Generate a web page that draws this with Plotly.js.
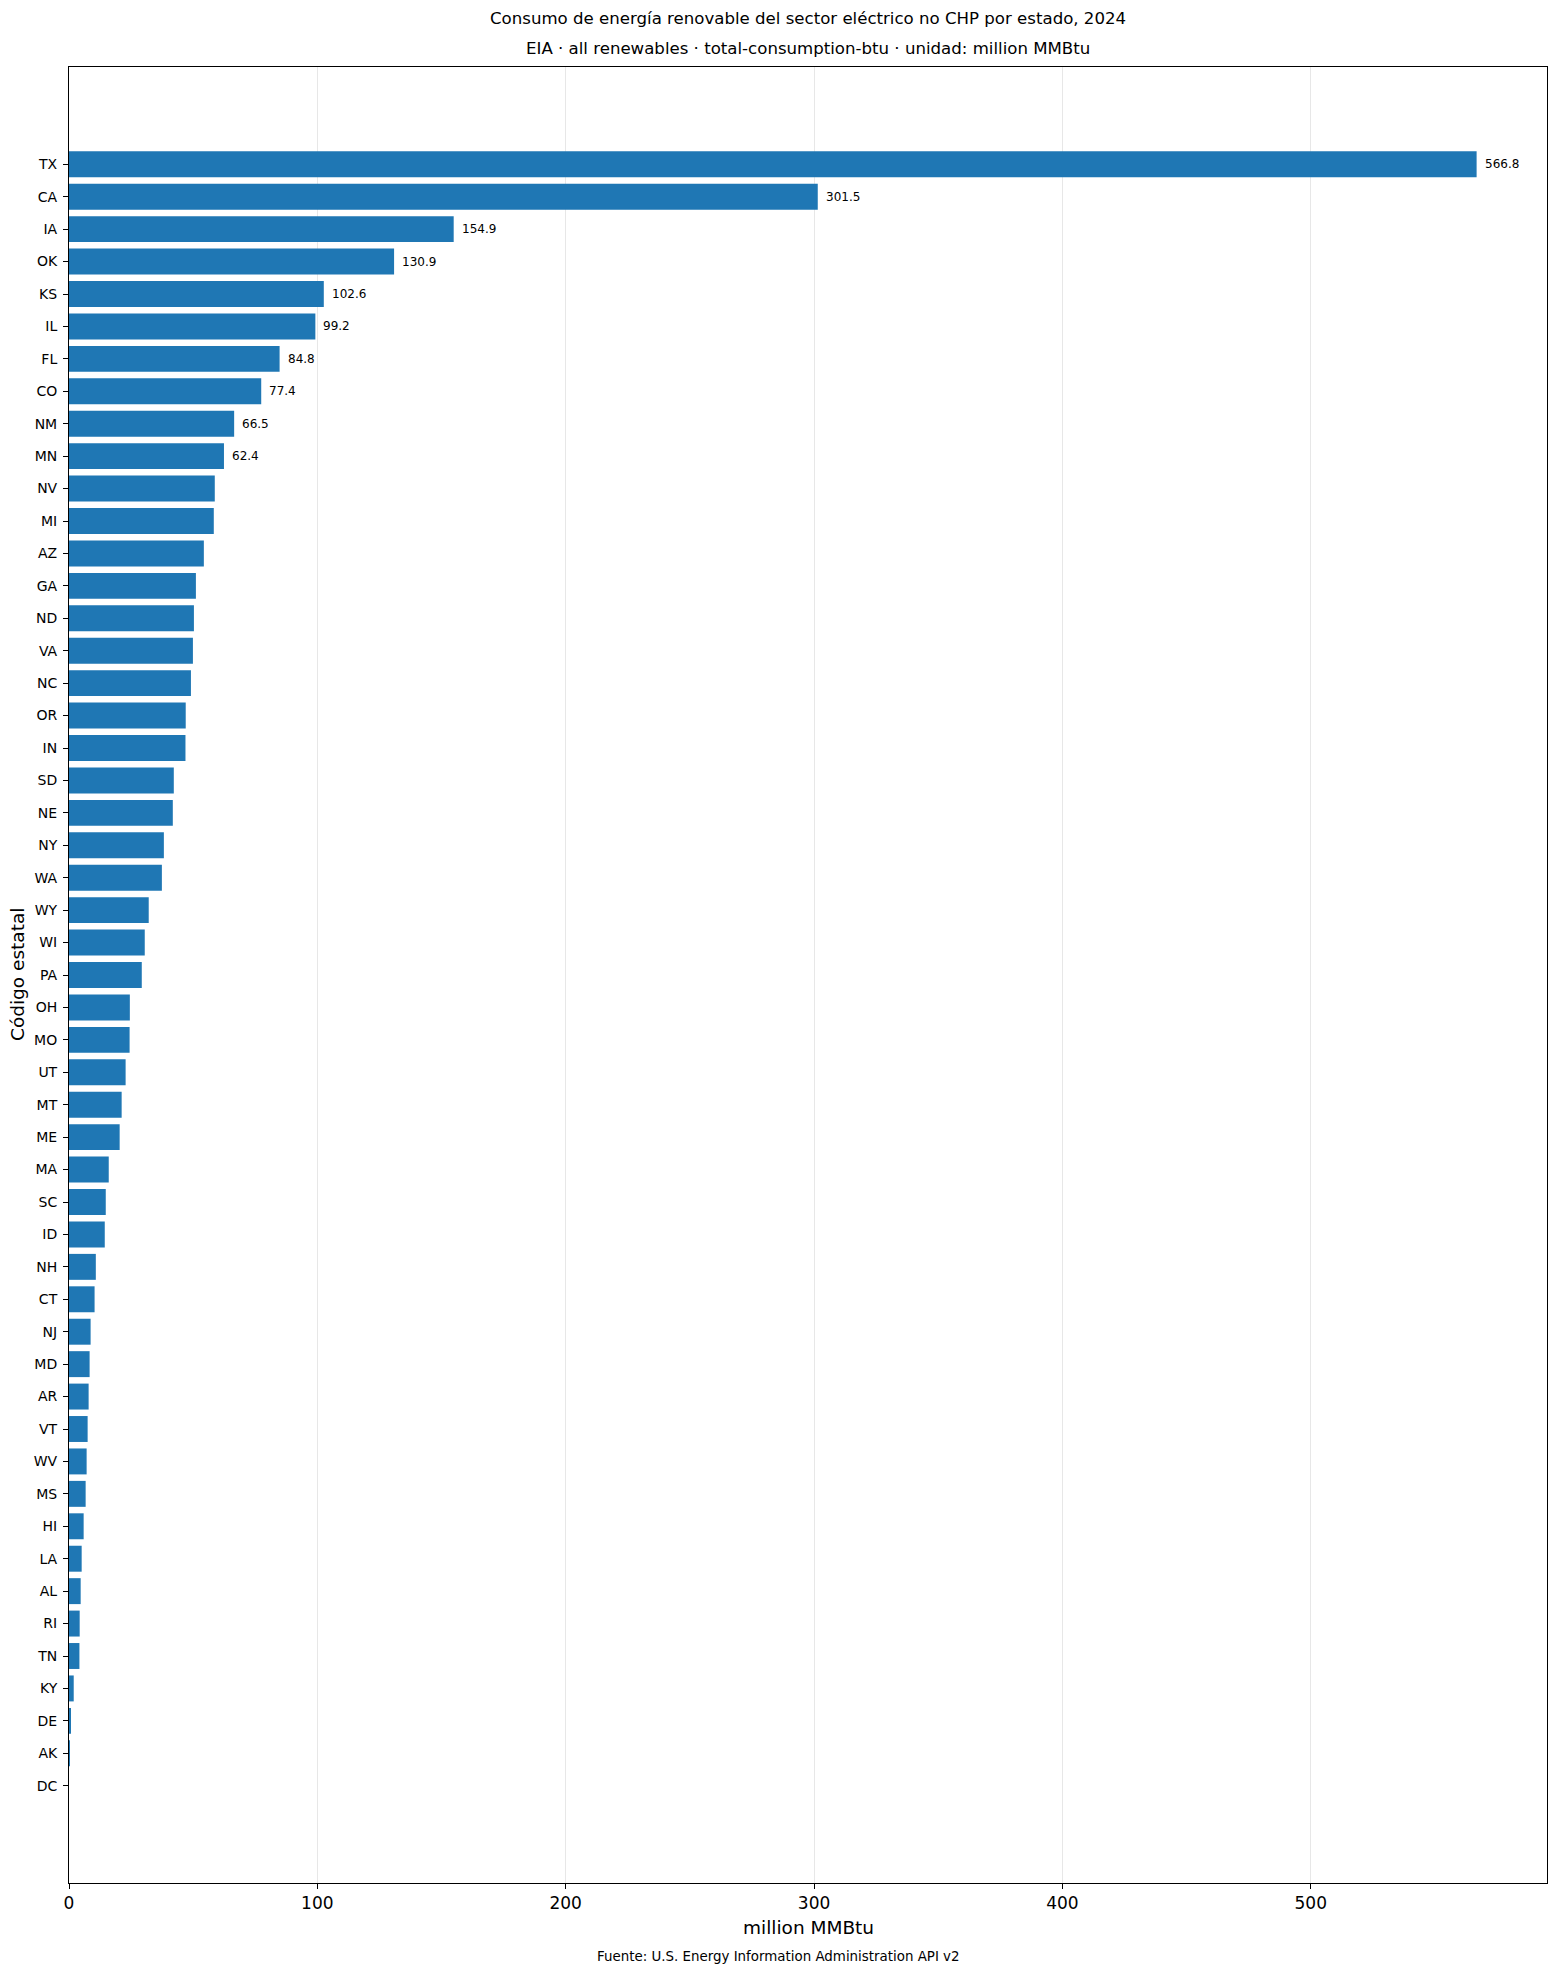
<!DOCTYPE html>
<html>
<head>
<meta charset="utf-8">
<script src="https://cdn.plot.ly/plotly-3.0.1.min.js"></script>
<style>
  html, body { margin: 0; padding: 0; background: #ffffff; }
  #chart { width: 1556px; height: 1973px; }
</style>
</head>
<body>
<div id="chart"></div>
<script>
const states = ["TX","CA","IA","OK","KS","IL","FL","CO","NM","MN",
  "NV","MI","AZ","GA","ND","VA","NC","OR","IN","SD",
  "NE","NY","WA","WY","WI","PA","OH","MO","UT","MT",
  "ME","MA","SC","ID","NH","CT","NJ","MD","AR","VT",
  "WV","MS","HI","LA","AL","RI","TN","KY","DE","AK","DC"];
const values = [566.8, 301.5, 154.9, 130.9, 102.6, 99.2, 84.8, 77.4, 66.5, 62.4,
  58.7, 58.3, 54.3, 51.1, 50.3, 49.9, 49.1, 47.0, 46.9, 42.2,
  41.8, 38.2, 37.4, 32.1, 30.5, 29.3, 24.5, 24.4, 22.8, 21.2,
  20.4, 16.0, 14.8, 14.4, 10.8, 10.3, 8.7, 8.3, 7.9, 7.5,
  7.1, 6.7, 5.9, 5.1, 4.7, 4.3, 4.2, 1.9, 0.6, 0.05, 0.0];
const labeledCount = 10;
const xTicks = [0, 100, 200, 300, 400, 500];

const titleText = "Consumo de energía renovable del sector eléctrico no CHP por estado, 2024";
const subtitleText = "EIA · all renewables · total-consumption-btu · unidad: million MMBtu";
const xTitle = "million MMBtu";
const yTitle = "Código estatal";
const sourceText = "Fuente: U.S. Energy Information Administration API v2";

const FONT = "DejaVu Sans, Verdana, sans-serif";
const W = 1556, H = 1973;
const M = { l: 69, r: 9, t: 67, b: 90 };
const figCenterX = (W / 2 - M.l) / (W - M.l - M.r);

const trace = {
  type: "bar",
  orientation: "h",
  x: values,
  y: states,
  marker: { color: "#1f77b4", line: { width: 0 } },
  hoverinfo: "x+y"
};

const annotations = [];
for (let i = 0; i < labeledCount; i++) {
  annotations.push({
    x: values[i], y: states[i], xref: "x", yref: "y",
    text: values[i].toFixed(1), showarrow: false,
    xanchor: "left", yanchor: "middle", xshift: 6,
    font: { family: FONT, size: 12, color: "#000000" }
  });
}
annotations.push({
  x: 0.5, y: 1, xref: "paper", yref: "paper", yshift: 49,
  text: titleText, showarrow: false, xanchor: "center", yanchor: "middle",
  font: { family: FONT, size: 16.6, color: "#000000" }
});
annotations.push({
  x: 0.5, y: 1, xref: "paper", yref: "paper", yshift: 19,
  text: subtitleText, showarrow: false, xanchor: "center", yanchor: "middle",
  font: { family: FONT, size: 16.6, color: "#000000" }
});
annotations.push({
  x: figCenterX, y: 0, xref: "paper", yref: "paper", yshift: -73,
  text: sourceText, showarrow: false, xanchor: "center", yanchor: "middle",
  font: { family: FONT, size: 13.4, color: "#000000" }
});
annotations.push({
  x: 0, y: 0.5, xref: "paper", yref: "paper", xshift: -52,
  text: yTitle, showarrow: false, textangle: -90, xanchor: "center", yanchor: "middle",
  font: { family: FONT, size: 18.5, color: "#000000" }
});
annotations.push({
  x: 0.5, y: 0, xref: "paper", yref: "paper", yshift: -44,
  text: xTitle, showarrow: false, xanchor: "center", yanchor: "middle",
  font: { family: FONT, size: 18.5, color: "#000000" }
});

const layout = {
  width: W,
  height: H,
  margin: { l: M.l, r: M.r, t: M.t, b: M.b, pad: 0 },
  paper_bgcolor: "#ffffff",
  plot_bgcolor: "#ffffff",
  font: { family: FONT, color: "#000000" },
  showlegend: false,
  bargap: 0.2,
  xaxis: {
    range: [0, 595.14],
    tickmode: "array",
    tickvals: xTicks,
    ticktext: xTicks.map(String),
    ticks: "outside", ticklen: 5, tickwidth: 1, tickcolor: "#000000",
    tickfont: { family: FONT, size: 17, color: "#000000" },
    showgrid: true, gridcolor: "rgba(176,176,176,0.3)", gridwidth: 1,
    zeroline: false,
    showline: true, linecolor: "#000000", linewidth: 1, mirror: true,
    layer: "above traces",
    fixedrange: true
  },
  yaxis: {
    type: "category",
    categoryorder: "array",
    categoryarray: states,
    range: [states.length - 1 + 3, -3],
    ticks: "outside", ticklen: 5, tickwidth: 1, tickcolor: "#000000",
    tickfont: { family: FONT, size: 14, color: "#000000" },
    ticklabelstandoff: 3,
    showgrid: false,
    zeroline: false,
    showline: true, linecolor: "#000000", linewidth: 1, mirror: true,
    fixedrange: true
  },
  annotations: annotations
};

Plotly.newPlot("chart", [trace], layout, { displayModeBar: false, staticPlot: false });
</script>
</body>
</html>
